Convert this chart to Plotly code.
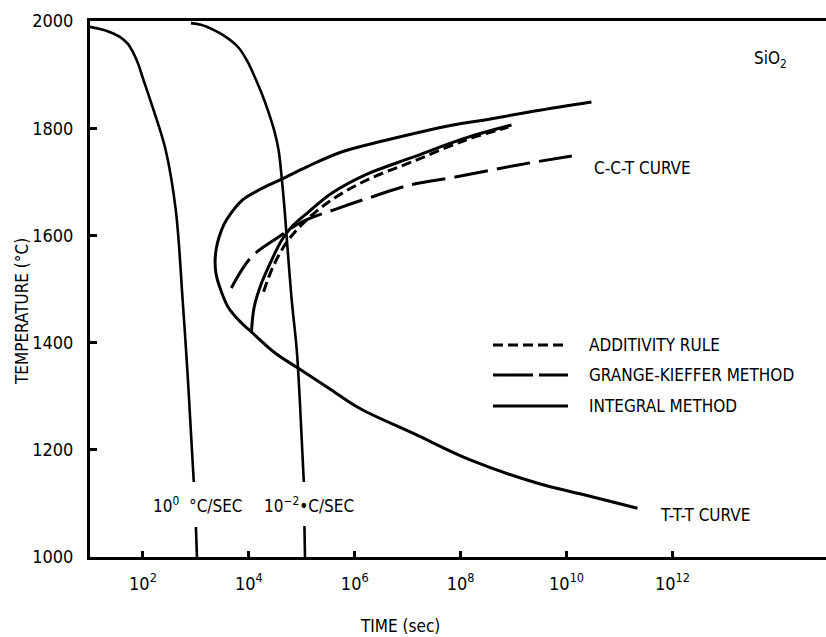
import numpy as np
import plotly.graph_objects as go

# ---- data (log10 of time in seconds, temperature in °C) ----
cool1_logt = [1.0, 1.19, 1.38, 1.57, 1.72, 1.82, 1.91, 1.99, 2.2, 2.43, 2.62, 2.75, 2.85, 2.96, None, 3.0, 3.02]
cool1_T    = [1989, 1985, 1979, 1970, 1957, 1940, 1920, 1896, 1834, 1759, 1647, 1479, 1330, 1140, None, 1056, 1000]

cool2_logt = [2.905, 3.095, 3.343, 3.571, 3.8, 3.971, 4.105, 4.238, 4.371, 4.486, 4.562, 4.619, 4.676,
              4.733, 4.81, 4.905, 4.962, 5.038, None, 5.05, 5.06]
cool2_T    = [1996, 1993, 1983, 1970, 1951, 1925, 1897, 1866, 1830, 1793, 1759, 1709, 1647,
              1573, 1479, 1386, 1293, 1140, None, 1058, 1000]

ttt_logt = [10.47, 9.4, 8.43, 7.86, 6.524, 5.762, 5.095, 4.619, 4.333, 4.048, 3.857, 3.667, 3.533, 3.438, 3.381,
            3.362, 3.381, 3.438, 3.61, 3.857, 4.048, 4.49, 4.92, 5.51, 6.1, 7.12, 8.18, 9.44, 10.33, 11.34]
ttt_T    = [1849, 1832, 1815, 1806, 1776, 1756, 1728, 1705, 1692, 1677, 1664, 1642, 1621, 1597, 1573,
            1550, 1528, 1507, 1466, 1437, 1420, 1381, 1353, 1315, 1277, 1230, 1181, 1138, 1116, 1091]

integral_logt = [4.05, 4.1, 4.24, 4.43, 4.62, 4.81, 5.13, 5.57, 6.2, 7.1, 8.1, 8.96]
integral_T    = [1420, 1466, 1511, 1554, 1591, 1616, 1644, 1679, 1713, 1746, 1782, 1806]

additivity_logt = [4.28, 4.45, 4.7, 5.0, 5.5, 6.2, 7.1, 8.1, 8.9]
additivity_T    = [1495, 1540, 1585, 1620, 1662, 1702, 1738, 1778, 1802]

grange_logt = [3.67, 4.05, 4.56, 5.0, 5.7, 6.33, 7.04, 7.9, 9.06, 10.1]
grange_T    = [1502, 1560, 1597, 1625, 1651, 1672, 1694, 1709, 1731, 1748]

x_tick_exp = [2, 4, 6, 8, 10, 12]
y_ticks = [1000, 1200, 1400, 1600, 1800, 2000]

FONT = "DejaVu Sans Condensed, Liberation Sans Narrow, sans-serif"


def to_t(logs):
    return [None if v is None else 10 ** v for v in logs]


fig = go.Figure()
line_w = 3
fig.add_trace(go.Scatter(x=to_t(cool1_logt), y=cool1_T, mode="lines", connectgaps=False,
                         line=dict(color="black", width=2.6, shape="spline", smoothing=1.0)))
fig.add_trace(go.Scatter(x=to_t(cool2_logt), y=cool2_T, mode="lines", connectgaps=False,
                         line=dict(color="black", width=2.6, shape="spline", smoothing=1.0)))
fig.add_trace(go.Scatter(x=to_t(ttt_logt), y=ttt_T, mode="lines",
                         line=dict(color="black", width=line_w, shape="spline", smoothing=1.0)))
fig.add_trace(go.Scatter(x=to_t(integral_logt), y=integral_T, mode="lines",
                         line=dict(color="black", width=line_w, shape="spline", smoothing=1.0)))
fig.add_trace(go.Scatter(x=to_t(additivity_logt), y=additivity_T, mode="lines",
                         line=dict(color="black", width=line_w, shape="spline", smoothing=1.0, dash="10px,5px")))
fig.add_trace(go.Scatter(x=to_t(grange_logt), y=grange_T, mode="lines",
                         line=dict(color="black", width=line_w, shape="spline", smoothing=1.0, dash="34px,9px")))

# plot area in pixels: left 90, right 826, top 21, bottom 557
L, R, T, B = 90, 826, 21, 557
W, H = R - L, B - T


def px(xp):
    return (xp - L) / W


def py(yp):
    return (B - yp) / H


fig.update_layout(
    width=826, height=637,
    margin=dict(l=L, r=0, t=T, b=637 - B),
    paper_bgcolor="white", plot_bgcolor="white",
    showlegend=False,
    font=dict(family=FONT, size=17, color="black"),
    xaxis=dict(type="log", range=[1, 14.9], showgrid=False, zeroline=False,
               showline=True, linecolor="black", linewidth=3, mirror=True,
               ticks="inside", ticklen=6, tickwidth=2.5, tickcolor="black",
               tickvals=[10 ** e for e in x_tick_exp],
               ticktext=[f"10<sup>{e}</sup>" for e in x_tick_exp],
               tickfont=dict(size=18),
               ticklabelstandoff=8),
    yaxis=dict(range=[1000, 2000], showgrid=False, zeroline=False,
               showline=True, linecolor="black", linewidth=3, mirror=False,
               ticks="inside", ticklen=7, tickwidth=2.5, tickcolor="black",
               tickvals=y_ticks, tickfont=dict(size=18), ticklabelstandoff=10),
)

ann = []


def add_text(text, xp, yp, xanchor="center", size=17, angle=0):
    ann.append(dict(text=text, x=px(xp), y=py(yp), xref="paper", yref="paper",
                    xanchor=xanchor, yanchor="middle", showarrow=False,
                    textangle=angle, font=dict(family=FONT, size=size, color="black")))


add_text("SiO<sub>2</sub>", 770, 60)
add_text("C-C-T CURVE", 642, 168)
add_text("T-T-T CURVE", 705, 515)
add_text("10<sup>0</sup>  °C/SEC", 198, 505)
add_text("10<sup>−2</sup>•C/SEC", 309, 505)
add_text("TIME (sec)", 400, 626)
add_text("TEMPERATURE (°C)", 22, 312, angle=-90)

legend_rows = [("ADDITIVITY RULE", 345, "10px,5px"),
               ("GRANGE-KIEFFER METHOD", 375, "40px,6px"),
               ("INTEGRAL METHOD", 406, "solid")]
shapes = []
for label, yp, dash in legend_rows:
    add_text(label, 587, yp, xanchor="left")
    shapes.append(dict(type="line", xref="paper", yref="paper",
                       x0=px(493), x1=px(568), y0=py(yp), y1=py(yp),
                       line=dict(color="black", width=3, dash=dash)))

fig.update_layout(annotations=ann, shapes=shapes)
fig.write_html("out.html")
